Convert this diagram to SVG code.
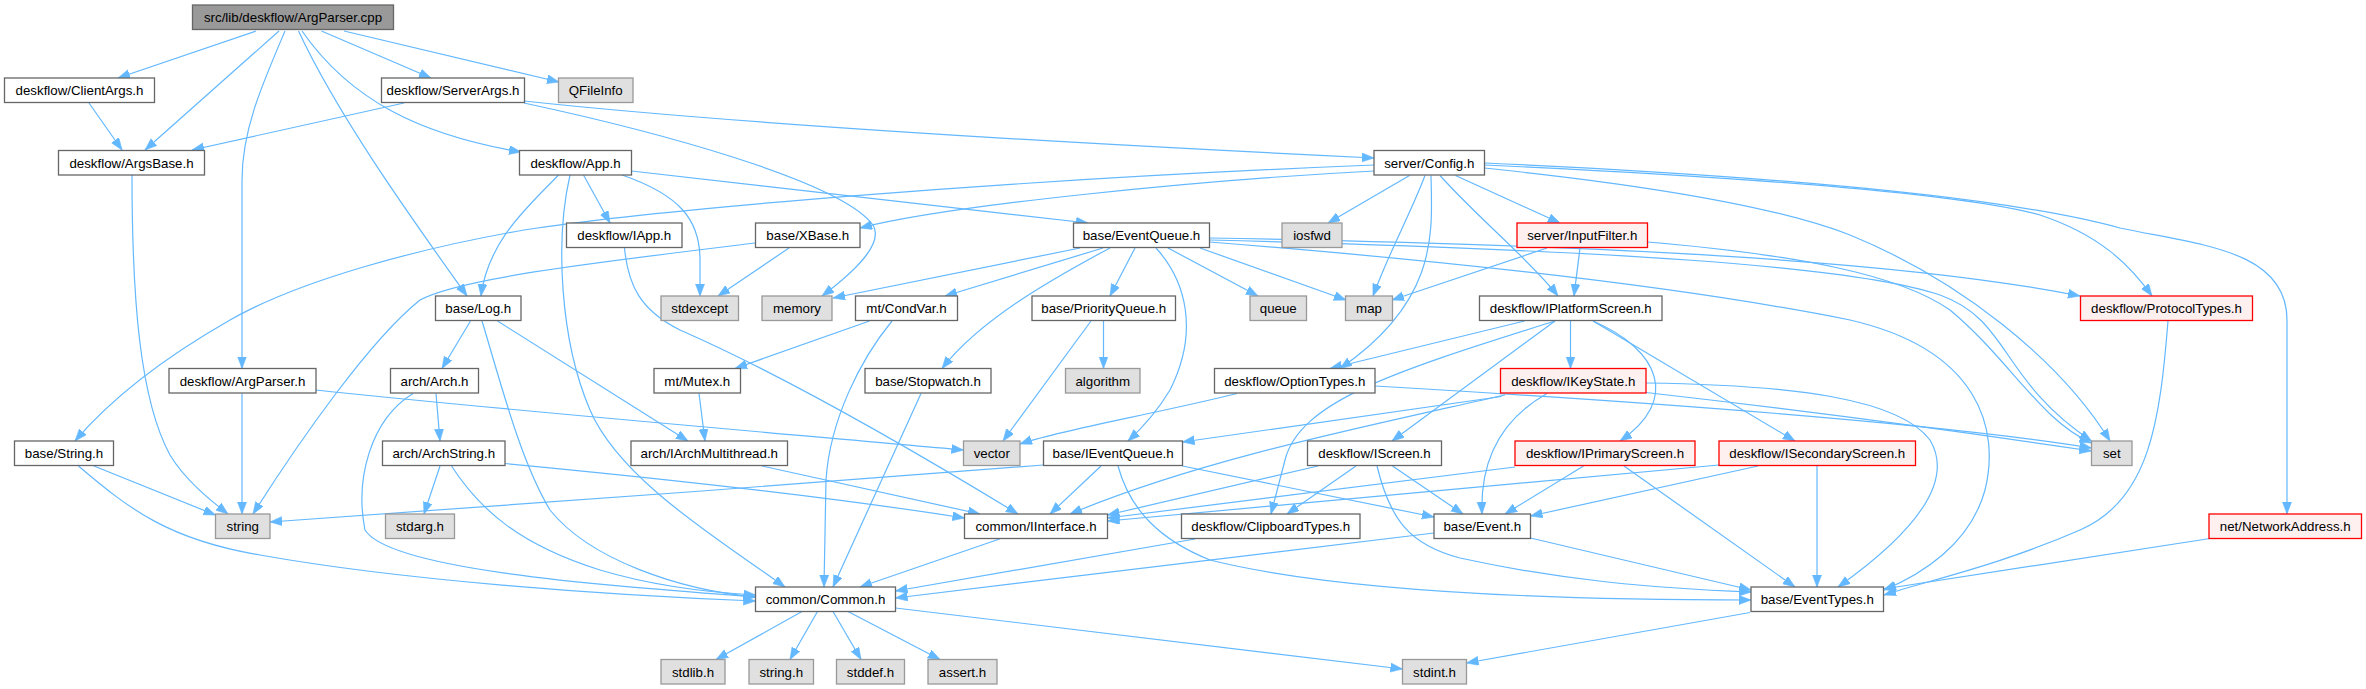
<svg xmlns="http://www.w3.org/2000/svg" width="2366" height="689" viewBox="0 0 2366 689">
<defs>
<marker id="ah" markerUnits="userSpaceOnUse" markerWidth="13" markerHeight="10" refX="12" refY="4.5" orient="auto">
<path d="M0,0 L12,4.5 L0,9 z" fill="#63b8ff" stroke="#63b8ff" stroke-width="0.6"/>
</marker>
</defs>
<style>
rect{stroke-width:1.3}
.n rect{fill:#ffffff;stroke:#666666}
.r rect{fill:#999999;stroke:#666666}
.s rect{fill:#e0e0e0;stroke:#999999}
.t rect{fill:#fff0f0;stroke:#ff0000}
text{font-family:"Liberation Sans",Arial,sans-serif;font-size:13.3px;fill:#000000;text-anchor:middle}
#edges path{fill:none;stroke:#63b8ff;stroke-width:1.2;marker-end:url(#ah)}
</style>
<rect width="2366" height="689" fill="#ffffff"/>
<g id="edges">
<path d="M256,31 L118,78"/>
<path d="M279,31 L145,150"/>
<path d="M285,31 C262,85 242,130 242,180 L242,368.5"/>
<path d="M298.5,31 C340,120 420,230 467,296"/>
<path d="M302,31 C350,100 420,135 521,152"/>
<path d="M321.5,31 L431,78"/>
<path d="M344,31 L559,82"/>
<path d="M89,103 L122,150"/>
<path d="M404,103 L192,150"/>
<path d="M524,103 C650,130 840,180 873,225 C885,245 850,275 822,296"/>
<path d="M524,101 C700,120 1000,140 1374,158"/>
<path d="M132,175 C132,300 140,400 170,455 C185,480 210,500 228,514"/>
<path d="M583.5,175 L610,223"/>
<path d="M558.5,175 C530,205 488,240 481,296"/>
<path d="M570,175 C555,240 560,340 590,410 C620,480 720,540 785,587"/>
<path d="M622,175 C680,195 700,220 700,260 L700,296"/>
<path d="M631.5,171 L1088,223"/>
<path d="M1374,165 C1000,180 650,210 524,230 C420,248 300,280 230,320 C160,360 110,400 75,441"/>
<path d="M1374,171 C1200,180 950,205 860,228"/>
<path d="M1409.5,175.5 L1328,223"/>
<path d="M1425,175.5 C1410,215 1390,250 1373,296"/>
<path d="M1431,175.5 C1432,230 1440,300 1340,368.5"/>
<path d="M1440,175.5 C1480,220 1530,260 1558,296"/>
<path d="M1455.5,175.5 L1560,223"/>
<path d="M1484.5,168 C1600,180 1760,200 1850,235 C1960,280 2060,360 2110,441"/>
<path d="M1484.5,165 C1700,175 1950,190 2040,215 C2100,235 2130,265 2152,296"/>
<path d="M1484.5,163 C1750,175 2000,195 2120,228 C2200,245 2287,250 2287,320 L2287,514"/>
<path d="M624.5,248 C628,285 640,310 680,330 C760,365 880,430 1018,514"/>
<path d="M789,248 L718,296"/>
<path d="M755.5,243 C600,262 460,278 420,300 C370,340 300,440 253,514"/>
<path d="M1080,248 L833,298"/>
<path d="M1103,248 L945,296"/>
<path d="M1110,248 C1050,280 980,320 942,368.5"/>
<path d="M1135,248 L1110,296"/>
<path d="M1156,248 C1185,280 1200,330 1170,390 C1155,415 1140,430 1128,441"/>
<path d="M1168,248 L1258,296"/>
<path d="M1200,248 L1346,300"/>
<path d="M1209.5,240 C1600,250 1850,265 1940,295 C2010,320 2000,380 2091.5,441"/>
<path d="M1209.5,242 C1500,265 1700,290 1850,320 C1980,350 2000,430 1985,490 C1970,545 1920,575 1884,590"/>
<path d="M1209.5,238 C1600,245 1900,260 2080,296"/>
<path d="M1547,248 L1392,300"/>
<path d="M1580,248 L1574,296"/>
<path d="M1647.5,242 C1800,255 1900,275 1950,310 C2010,360 2040,420 2091.5,443"/>
<path d="M470.5,321 L442,368.5"/>
<path d="M497.5,321 L688,441"/>
<path d="M482,321 C500,380 520,460 550,510 C590,560 680,590 755.5,597"/>
<path d="M869.5,321 L735,368.5"/>
<path d="M892,321 C860,360 830,420 826,480 L824,587"/>
<path d="M1091,321 L1003,441"/>
<path d="M1103.5,321 L1103.5,368.5"/>
<path d="M1524.5,321 L1330,368.5"/>
<path d="M1570.5,321 L1570.5,368.5"/>
<path d="M1555,321 L1392,441"/>
<path d="M1593,321 C1660,350 1680,400 1620,441"/>
<path d="M1593,321 L1795,441"/>
<path d="M1555,321 C1400,370 1300,400 1285,460 L1271,514"/>
<path d="M2168,321 C2160,420 2150,500 2080,530 C2000,565 1930,580 1884,595"/>
<path d="M242,393.5 L242,514"/>
<path d="M316,390 C500,410 800,435 963.5,450"/>
<path d="M436,393.5 L440,441"/>
<path d="M413,393.5 C370,420 355,480 365,530 C390,570 600,585 755.5,597"/>
<path d="M699,393.5 L705,441"/>
<path d="M921,393.5 L833,587"/>
<path d="M1237,393.5 C1150,415 1060,430 1020,444"/>
<path d="M1375,386 C1700,405 1950,425 2091.5,448"/>
<path d="M1501.5,396.5 L1182.5,442"/>
<path d="M1505,395 C1350,430 1200,460 1070,514"/>
<path d="M1547,393.5 C1500,420 1480,460 1482,514"/>
<path d="M1646,392.5 C1800,410 1950,430 2091.5,451"/>
<path d="M1646,383 C1800,385 1900,400 1930,440 C1960,490 1890,550 1838,587"/>
<path d="M94,466 L215.5,515"/>
<path d="M78.5,466 C130,510 170,540 260,555 C400,580 600,595 755.5,601"/>
<path d="M440,466 L424,514"/>
<path d="M451.5,466 C480,510 520,545 600,570 C650,585 700,592 755.5,595"/>
<path d="M505,463.5 C700,482 850,500 964.5,518"/>
<path d="M762,466 L980,514"/>
<path d="M1043.5,465 C800,485 500,505 270,522"/>
<path d="M1101,466 L1050,514"/>
<path d="M1182.5,466 L1434,517"/>
<path d="M1118,466 C1130,510 1160,540 1210,560 C1350,595 1600,600 1751,600"/>
<path d="M1318,466 L1107.5,515"/>
<path d="M1356,466 L1287,514"/>
<path d="M1392.5,466 L1463,514"/>
<path d="M1377,466 C1390,520 1410,545 1460,558 C1560,580 1650,588 1751,592"/>
<path d="M1515,467 L1107.5,518"/>
<path d="M1583.5,466 L1505,514"/>
<path d="M1624,466 L1795,587"/>
<path d="M1719,465 L1107.5,521"/>
<path d="M1758,466 L1530.5,516"/>
<path d="M1817,466 L1817,587"/>
<path d="M999.5,539 L860,587"/>
<path d="M1195,539 L895.5,591"/>
<path d="M1434,533 C1200,560 1000,585 895.5,598"/>
<path d="M1530.5,538 L1751,590"/>
<path d="M2210,538.5 L1883.5,589"/>
<path d="M802,611.5 L716,659.5"/>
<path d="M817.5,611.5 L790,659.5"/>
<path d="M833,611.5 L861,659.5"/>
<path d="M848,611.5 L940,659.5"/>
<path d="M895.5,608 L1402.5,669"/>
<path d="M1750,612.5 L1466.5,663"/>
</g>
<g id="n_cpp" class="r"><rect x="192.5" y="5" width="201" height="24.5"/><text x="293" y="22">src/lib/deskflow/ArgParser.cpp</text></g>
<g id="n_clientargs" class="n"><rect x="4.5" y="78" width="150" height="24.5"/><text x="79.5" y="95">deskflow/ClientArgs.h</text></g>
<g id="n_serverargs" class="n"><rect x="381.5" y="78" width="143" height="24.5"/><text x="453" y="95">deskflow/ServerArgs.h</text></g>
<g id="n_qfileinfo" class="s"><rect x="558.5" y="78" width="74.5" height="24.5"/><text x="595.75" y="95">QFileInfo</text></g>
<g id="n_argsbase" class="n"><rect x="58.5" y="150.5" width="146" height="24.5"/><text x="131.5" y="167.5">deskflow/ArgsBase.h</text></g>
<g id="n_app" class="n"><rect x="519.5" y="150.5" width="112" height="24.5"/><text x="575.5" y="167.5">deskflow/App.h</text></g>
<g id="n_config" class="n"><rect x="1374" y="150.5" width="110.5" height="24.5"/><text x="1429.25" y="167.5">server/Config.h</text></g>
<g id="n_iapp" class="n"><rect x="566.5" y="223" width="115.5" height="24.5"/><text x="624.25" y="240">deskflow/IApp.h</text></g>
<g id="n_xbase" class="n"><rect x="755.5" y="223" width="104.5" height="24.5"/><text x="807.75" y="240">base/XBase.h</text></g>
<g id="n_eventqueue" class="n"><rect x="1073.5" y="223" width="136" height="24.5"/><text x="1141.5" y="240">base/EventQueue.h</text></g>
<g id="n_iosfwd" class="s"><rect x="1282" y="223" width="60" height="24.5"/><text x="1312" y="240">iosfwd</text></g>
<g id="n_inputfilter" class="t"><rect x="1517" y="223" width="130.5" height="24.5"/><text x="1582.25" y="240">server/InputFilter.h</text></g>
<g id="n_log" class="n"><rect x="435.5" y="296" width="85.5" height="24.5"/><text x="478.25" y="313">base/Log.h</text></g>
<g id="n_stdexcept" class="s"><rect x="661" y="296" width="77.5" height="24.5"/><text x="699.75" y="313">stdexcept</text></g>
<g id="n_memory" class="s"><rect x="762" y="296" width="70" height="24.5"/><text x="797" y="313">memory</text></g>
<g id="n_condvar" class="n"><rect x="855.5" y="296" width="102" height="24.5"/><text x="906.5" y="313">mt/CondVar.h</text></g>
<g id="n_priorityqueue" class="n"><rect x="1032" y="296" width="143.5" height="24.5"/><text x="1103.75" y="313">base/PriorityQueue.h</text></g>
<g id="n_queue" class="s"><rect x="1250" y="296" width="56.5" height="24.5"/><text x="1278.25" y="313">queue</text></g>
<g id="n_map" class="s"><rect x="1345.5" y="296" width="47" height="24.5"/><text x="1369" y="313">map</text></g>
<g id="n_iplatformscreen" class="n"><rect x="1479.5" y="296" width="182.5" height="24.5"/><text x="1570.75" y="313">deskflow/IPlatformScreen.h</text></g>
<g id="n_protocoltypes" class="t"><rect x="2080.5" y="296" width="172" height="24.5"/><text x="2166.5" y="313">deskflow/ProtocolTypes.h</text></g>
<g id="n_argparserh" class="n"><rect x="169" y="368.5" width="147" height="24.5"/><text x="242.5" y="385.5">deskflow/ArgParser.h</text></g>
<g id="n_arch" class="n"><rect x="390.5" y="368.5" width="88" height="24.5"/><text x="434.5" y="385.5">arch/Arch.h</text></g>
<g id="n_mutex" class="n"><rect x="654" y="368.5" width="86.5" height="24.5"/><text x="697.25" y="385.5">mt/Mutex.h</text></g>
<g id="n_stopwatch" class="n"><rect x="865" y="368.5" width="126" height="24.5"/><text x="928" y="385.5">base/Stopwatch.h</text></g>
<g id="n_algorithm" class="s"><rect x="1065.5" y="368.5" width="74.5" height="24.5"/><text x="1102.75" y="385.5">algorithm</text></g>
<g id="n_optiontypes" class="n"><rect x="1214.5" y="368.5" width="160.5" height="24.5"/><text x="1294.75" y="385.5">deskflow/OptionTypes.h</text></g>
<g id="n_ikeystate" class="t"><rect x="1500.5" y="368.5" width="145.5" height="24.5"/><text x="1573.25" y="385.5">deskflow/IKeyState.h</text></g>
<g id="n_stringh_base" class="n"><rect x="14.5" y="441" width="99" height="24.5"/><text x="64" y="458">base/String.h</text></g>
<g id="n_archstring" class="n"><rect x="382.5" y="441" width="122.5" height="24.5"/><text x="443.75" y="458">arch/ArchString.h</text></g>
<g id="n_iarchmultithread" class="n"><rect x="631" y="441" width="156.5" height="24.5"/><text x="709.25" y="458">arch/IArchMultithread.h</text></g>
<g id="n_vector" class="s"><rect x="963.5" y="441" width="56.5" height="24.5"/><text x="991.75" y="458">vector</text></g>
<g id="n_ieventqueue" class="n"><rect x="1043.5" y="441" width="139" height="24.5"/><text x="1113" y="458">base/IEventQueue.h</text></g>
<g id="n_iscreen" class="n"><rect x="1307.5" y="441" width="134" height="24.5"/><text x="1374.5" y="458">deskflow/IScreen.h</text></g>
<g id="n_iprimaryscreen" class="t"><rect x="1515" y="441" width="180" height="24.5"/><text x="1605" y="458">deskflow/IPrimaryScreen.h</text></g>
<g id="n_isecondaryscreen" class="t"><rect x="1719" y="441" width="196.5" height="24.5"/><text x="1817.25" y="458">deskflow/ISecondaryScreen.h</text></g>
<g id="n_set" class="s"><rect x="2091.5" y="441" width="40.5" height="24.5"/><text x="2111.75" y="458">set</text></g>
<g id="n_string" class="s"><rect x="215.5" y="514" width="54.5" height="24.5"/><text x="242.75" y="531">string</text></g>
<g id="n_stdarg" class="s"><rect x="385.5" y="514" width="69" height="24.5"/><text x="420" y="531">stdarg.h</text></g>
<g id="n_iinterface" class="n"><rect x="964.5" y="514" width="143" height="24.5"/><text x="1036" y="531">common/IInterface.h</text></g>
<g id="n_clipboardtypes" class="n"><rect x="1181.5" y="514" width="178.5" height="24.5"/><text x="1270.75" y="531">deskflow/ClipboardTypes.h</text></g>
<g id="n_event" class="n"><rect x="1434" y="514" width="96.5" height="24.5"/><text x="1482.25" y="531">base/Event.h</text></g>
<g id="n_networkaddress" class="t"><rect x="2209" y="514" width="152.5" height="24.5"/><text x="2285.25" y="531">net/NetworkAddress.h</text></g>
<g id="n_common" class="n"><rect x="755.5" y="587" width="140" height="24.5"/><text x="825.5" y="604">common/Common.h</text></g>
<g id="n_eventtypes" class="n"><rect x="1751" y="587" width="132.5" height="24.5"/><text x="1817.25" y="604">base/EventTypes.h</text></g>
<g id="n_stdlib" class="s"><rect x="661" y="659.5" width="64" height="24.5"/><text x="693" y="676.5">stdlib.h</text></g>
<g id="n_stringh" class="s"><rect x="749" y="659.5" width="64.5" height="24.5"/><text x="781.25" y="676.5">string.h</text></g>
<g id="n_stddef" class="s"><rect x="836.5" y="659.5" width="68" height="24.5"/><text x="870.5" y="676.5">stddef.h</text></g>
<g id="n_assert" class="s"><rect x="928" y="659.5" width="69" height="24.5"/><text x="962.5" y="676.5">assert.h</text></g>
<g id="n_stdint" class="s"><rect x="1402.5" y="659.5" width="64" height="24.5"/><text x="1434.5" y="676.5">stdint.h</text></g>
</svg>
